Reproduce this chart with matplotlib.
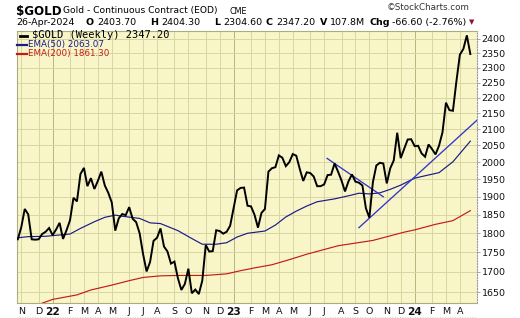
import numpy as np
import pandas as pd
import matplotlib
matplotlib.use('Agg')
import matplotlib.pyplot as plt
from matplotlib.ticker import FixedLocator, FixedFormatter, NullLocator
from matplotlib.lines import Line2D

# ---------------- data ----------------
start_date = '2021-10-29'   # first weekly close shown
price = [
    # 2021
    1784, 1816, 1866, 1851, 1784, 1783, 1784, 1798, 1804, 1814,
    # 2022
    1795, 1810, 1828, 1785, 1808, 1835, 1897, 1887, 1965, 1983, 1930, 1953,
    1922, 1945, 1972, 1932, 1911, 1884, 1807, 1840, 1852, 1849, 1871, 1839,
    1830, 1800, 1745, 1701, 1725, 1780, 1788, 1813, 1765, 1752, 1721, 1726,
    1684, 1655, 1670, 1708, 1647, 1656, 1645, 1678, 1769, 1752, 1753, 1808,
    1806, 1799, 1804, 1820,
    # 2023
    1868, 1918, 1925, 1926, 1875, 1873, 1850, 1815, 1855, 1866, 1972, 1982,
    1985, 2020, 2013, 1988, 2000, 2024, 2019, 1980, 1945, 1970, 1968, 1958,
    1930, 1930, 1935, 1962, 1963, 1996, 1972, 1946, 1915, 1944, 1964, 1943,
    1940, 1932, 1868, 1842, 1941, 1990, 1998, 1996, 1938, 1982, 2005, 2089,
    2012, 2040, 2068, 2069,
    # 2024
    2048, 2049, 2026, 2016, 2053, 2039, 2023, 2049, 2090, 2184, 2160, 2158,
    2254, 2345, 2365, 2413, 2347.20,
]

ema50_dates = ['2021-10-29', '2021-11-19', '2021-12-24', '2022-02-11', '2022-03-04',
               '2022-04-01', '2022-04-22', '2022-05-13', '2022-05-27', '2022-07-01',
               '2022-07-22', '2022-08-12', '2022-09-16', '2022-10-14', '2022-11-04',
               '2022-12-02', '2022-12-23', '2023-01-13', '2023-02-03', '2023-03-10',
               '2023-03-31', '2023-04-21', '2023-05-12', '2023-06-02', '2023-06-23',
               '2023-07-28', '2023-09-01', '2023-09-15', '2023-10-06', '2023-10-27',
               '2023-11-17', '2023-12-08', '2024-01-05', '2024-01-26', '2024-02-23',
               '2024-03-22', '2024-04-26']
ema50_vals = [1788, 1791, 1792, 1798, 1813, 1831, 1843, 1849, 1846, 1840,
              1828, 1826, 1807, 1786, 1771, 1771, 1775, 1790, 1800, 1806,
              1822, 1844, 1860, 1874, 1886, 1894, 1905, 1910, 1908, 1911,
              1921, 1933, 1953, 1960, 1969, 2001, 2063.07]

ema200_dates = ['2021-12-17', '2022-01-07', '2022-02-25', '2022-03-25', '2022-05-06',
                '2022-06-10', '2022-07-08', '2022-08-12', '2022-09-16', '2022-11-11',
                '2022-12-23', '2023-01-20', '2023-02-17', '2023-03-24', '2023-04-28',
                '2023-06-02', '2023-08-04', '2023-10-13', '2023-12-15', '2024-01-05',
                '2024-02-16', '2024-03-22', '2024-04-26']
ema200_vals = [1623, 1632, 1643, 1655, 1667, 1678, 1686, 1690, 1691, 1691,
               1695, 1703, 1710, 1718, 1731, 1745, 1767, 1781, 1803, 1809,
               1824, 1834, 1861.30]

trend1_dates = ['2023-07-13', '2023-11-03']
trend1_vals = [2011, 1900]
trend2_dates = ['2023-09-15', '2024-05-10']
trend2_vals = [1815, 2129]

y_ticks = [1650, 1700, 1750, 1800, 1850, 1900, 1950, 2000, 2050, 2100,
           2150, 2200, 2250, 2300, 2350, 2400]
month_letters = 'JFMAMJJASOND'

# ---------------- figure ----------------
W, H = 520, 318
fig = plt.figure(figsize=(W / 100, H / 100), dpi=100)
fig.patch.set_facecolor('white')

L, R, T, B = 16.5, 477, 31, 303
ax = fig.add_axes([L / W, 1 - B / H, (R - L) / W, (B - T) / H])
bg = '#f8f6c9'
grid_c = '#d9d6a2'
year_c = '#b9b47c'
ax.set_facecolor(bg)

dates = pd.date_range(start_date, periods=len(price), freq='W-FRI')

ax.set_yscale('log')
ax.set_ylim(1623.4, 2428.6)
ax.set_xlim(pd.Timestamp('2021-10-26 10:00'), pd.Timestamp('2024-05-09 10:00'))

# month grid lines: first weekly bar whose week starts in the month
df = pd.DataFrame({'d': dates, 'm': dates - pd.Timedelta(days=4)})
firsts = df.groupby([df.m.dt.year, df.m.dt.month]).d.first()
tick_pos, tick_lab, tick_bold = [], [], []
for (yr, mo), d in firsts.items():
    if d == dates[0]:
        continue
    ax.axvline(d, color=year_c if mo == 1 else grid_c, lw=0.7, zorder=1)
    tick_pos.append(d)
    if mo == 1:
        tick_lab.append('%02d' % (yr % 100))
        tick_bold.append(True)
    else:
        tick_lab.append(month_letters[mo - 1])
        tick_bold.append(False)

for t in y_ticks:
    ax.axhline(t, color=grid_c, lw=0.7, zorder=1)

# series
ax.plot(dates, price, color='black', lw=1.4, zorder=5, solid_joinstyle='miter')
ax.plot(pd.to_datetime(ema50_dates), ema50_vals, color='#1a1a8a', lw=0.85, zorder=4)
ax.plot(pd.to_datetime(ema200_dates), ema200_vals, color='#c41a1a', lw=0.85, zorder=4)
ax.plot(pd.to_datetime(trend1_dates), trend1_vals, color='#3333cc', lw=0.95, zorder=4)
ax.plot(pd.to_datetime(trend2_dates), trend2_vals, color='#3333cc', lw=0.95, zorder=4)

# axes styling
ax.yaxis.tick_right()
ax.yaxis.set_major_locator(FixedLocator(y_ticks))
ax.yaxis.set_major_formatter(FixedFormatter([str(t) for t in y_ticks]))
ax.yaxis.set_minor_locator(NullLocator())
ax.tick_params(axis='y', which='major', length=2, width=0.6, color='#999999',
               labelsize=6.8, pad=1.2, labelcolor='#111111')

ax.set_xticks(tick_pos)
ax.set_xticklabels(tick_lab)
ax.xaxis.set_minor_locator(NullLocator())
ax.tick_params(axis='x', length=0, pad=2.6, labelsize=6.8, labelcolor='#111111')
for lab, b in zip(ax.get_xticklabels(), tick_bold):
    if b:
        lab.set_fontweight('bold')
        lab.set_fontsize(7.6)

for s in ['left', 'top', 'bottom']:
    ax.spines[s].set_color('#aeab80')
    ax.spines[s].set_linewidth(0.8)
ax.spines['right'].set_color('#9a9a9a')
ax.spines['right'].set_linestyle((0, (1, 1.5)))
ax.spines['right'].set_linewidth(0.8)


def ftext(x, y, s, **kw):
    kw.setdefault('va', 'center')
    kw.setdefault('ha', 'left')
    fig.text(x / W, 1 - y / H, s, **kw)


def fline(x0, x1, y, color, lw):
    fig.add_artist(Line2D([x0 / W, x1 / W], [1 - y / H, 1 - y / H], color=color, lw=lw))


# header row 1
ftext(16, 11, '$GOLD', fontsize=8.6, fontweight='bold', color='black')
ftext(63, 11, 'Gold - Continuous Contract (EOD)', fontsize=6.6, color='black')
ftext(230, 11.5, 'CME', fontsize=5.8, color='black')
ftext(387, 7, '\u00a9StockCharts.com', fontsize=6.3, color='#333333')

# header row 2
r2 = 22.5
fs2 = 6.8
ftext(16, r2, '26-Apr-2024', fontsize=fs2)
ftext(86, r2, 'O', fontsize=fs2, fontweight='bold')
ftext(97, r2, '2403.70', fontsize=fs2)
ftext(150, r2, 'H', fontsize=fs2, fontweight='bold')
ftext(161, r2, '2404.30', fontsize=fs2)
ftext(214, r2, 'L', fontsize=fs2, fontweight='bold')
ftext(223, r2, '2304.60', fontsize=fs2)
ftext(266, r2, 'C', fontsize=fs2, fontweight='bold')
ftext(276, r2, '2347.20', fontsize=fs2)
ftext(320, r2, 'V', fontsize=fs2, fontweight='bold')
ftext(330, r2, '107.8M', fontsize=fs2)
ftext(369, r2, 'Chg', fontsize=fs2, fontweight='bold')
ftext(392, r2, '-66.60 (-2.76%)', fontsize=fs2)
ftext(468.5, r2, '\u25bc', fontsize=5.0, color='#8a1538')

# legend inside plot
fline(20, 26.5, 35.5, 'black', 2.0)
ftext(31.5, 35.5, '$GOLD (Weekly) 2347.20', fontsize=7.5, family='DejaVu Sans Mono')
fline(16.8, 27, 45, '#1a1a8a', 1.6)
ftext(28, 45, 'EMA(50) 2063.07', fontsize=6.3, color='#1a1a8a')
fline(16.8, 27, 53.5, '#c41a1a', 1.6)
ftext(28, 53.5, 'EMA(200) 1861.30', fontsize=6.3, color='#c41a1a')

# faint dotted rule below the date axis
fig.add_artist(Line2D([L / W, R / W], [1 - 316.5 / H] * 2, color='#c8c8c8', lw=0.6,
                      linestyle=(0, (1, 2))))

fig.savefig('out.png', dpi=100, facecolor='white')
